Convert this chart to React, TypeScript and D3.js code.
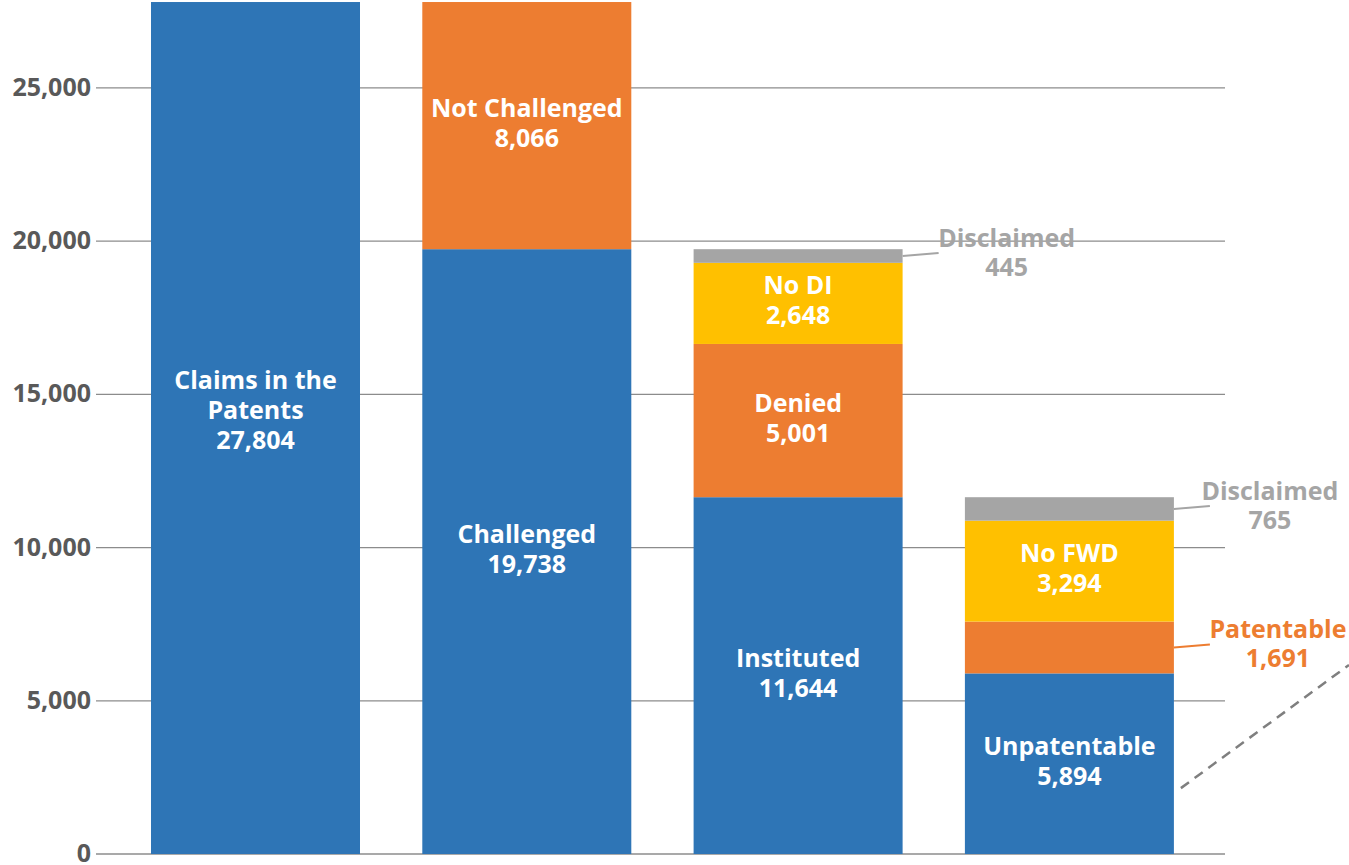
import React from "react";
import * as d3 from "d3";

const stages = ["Claims", "Challenge", "Institution", "Decision"];
const segmentNames = [
  ["Claims in the|Patents"],
  ["Challenged", "Not Challenged"],
  ["Instituted", "Denied", "No DI", "Disclaimed"],
  ["Unpatentable", "Patentable", "No FWD", "Disclaimed"],
];
const segmentValues = [
  [27804],
  [19738, 8066],
  [11644, 5001, 2648, 445],
  [5894, 1691, 3294, 765],
];
const segmentKinds = [
  ["blue"],
  ["blue", "orange"],
  ["blue", "orange", "yellow", "gray"],
  ["blue", "orange", "yellow", "gray"],
];
// labels placed outside the bar (callouts)
const outsideLabels = [
  { stage: 2, seg: 3 },
  { stage: 3, seg: 3 },
  { stage: 3, seg: 1 },
];
const yTicks = [0, 5000, 10000, 15000, 20000, 25000];
// decorative dashed trend line (value units)
const dashStart = 2150;
const dashEnd = 6170;

const colors: Record<string, string> = {
  blue: "#2E75B6",
  orange: "#ED7D31",
  yellow: "#FFC000",
  gray: "#A5A5A5",
};
const FONT = "'Open Sans', 'Noto Sans', sans-serif";

export default function App() {
  const W = 1349;
  const H = 865;
  const y = d3.scaleLinear().domain([0, 27870]).range([854, 0]);
  const x = d3
    .scaleBand()
    .domain(stages)
    .range([151, 151 + 271.3 * 3 + 209])
    .paddingInner(62.3 / 271.3)
    .paddingOuter(0);
  const bw = x.bandwidth();
  const bx = (i: number) => x(stages[i]) as number;
  const fmt = d3.format(",");

  const isOutside = (i: number, j: number) =>
    outsideLabels.some((o) => o.stage === i && o.seg === j);

  const LBL = 25;

  return (
    <svg width={W} height={H} style={{ position: "absolute", left: 0, top: 0 }}>
      <rect width={W} height={H} fill="#fff" />
      {yTicks.map((t) => (
        <g key={t}>
          <line x1={96} x2={1225} y1={y(t)} y2={y(t)} stroke="#8C8C8C" strokeWidth={1.3} />
          <text
            x={91}
            y={y(t) - 1}
            dy="0.36em"
            textAnchor="end"
            fontFamily={FONT}
            fontWeight={700}
            fontSize={25}
            fill="#595959"
          >
            {fmt(t)}
          </text>
        </g>
      ))}
      {segmentValues.map((vals, i) => {
        let cum = 0;
        return (
          <g key={i}>
            {vals.map((v, j) => {
              const y0 = y(cum);
              const y1 = y(cum + v);
              cum += v;
              const color = colors[segmentKinds[i][j]];
              const outside = isOutside(i, j);
              const lines = [...segmentNames[i][j].split("|"), fmt(v)];
              const midY = (y0 + y1) / 2;
              const mid = midY - (lines.length > 2 ? 18 : 3);
              const x0 = bx(i);
              const tx = outside
                ? x0 + bw + (j === 1 ? 104 : 96) + (i === 2 ? 8 : 0)
                : x0 + bw / 2;
              const ty = outside ? midY - 18 : mid - ((lines.length - 1) / 2) * 30;
              const lh = outside ? 29 : 30;
              return (
                <g key={j}>
                  <rect x={x0} y={y1} width={bw} height={y0 - y1} fill={color} />
                  {outside && (
                    <line
                      x1={x0 + bw}
                      y1={midY}
                      x2={x0 + bw + 36}
                      y2={midY - 3}
                      stroke={color}
                      strokeWidth={2}
                    />
                  )}
                  <text
                    textAnchor="middle"
                    fontFamily={FONT}
                    fontWeight={700}
                    fontSize={LBL}
                    fill={outside ? color : "#fff"}
                  >
                    {lines.map((l, k) => (
                      <tspan key={k} x={tx} y={ty + k * lh} dy="0.36em">
                        {l}
                      </tspan>
                    ))}
                  </text>
                </g>
              );
            })}
          </g>
        );
      })}
      <line
        x1={bx(3) + bw + 7}
        y1={y(dashStart)}
        x2={W}
        y2={y(dashEnd)}
        stroke="#7F7F7F"
        strokeWidth={2.5}
        strokeDasharray="10 7"
      />
    </svg>
  );
}
